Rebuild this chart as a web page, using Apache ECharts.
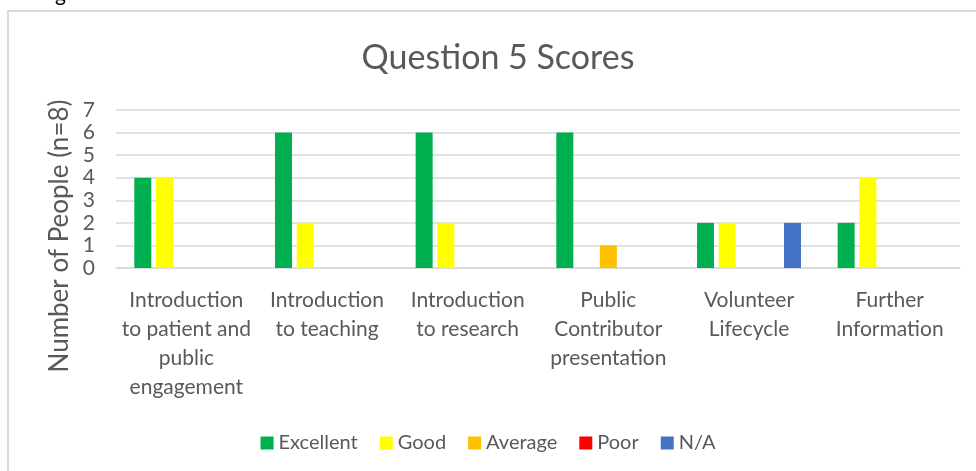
<!DOCTYPE html>
<html>
<head>
<meta charset="utf-8">
<script src="https://cdn.jsdelivr.net/npm/echarts@6/dist/echarts.min.js"></script>
<style>html,body{margin:0;padding:0;background:#fff;}#c{width:976px;height:471px;}</style>
</head>
<body>
<div id="c"></div>
<script>
const categories = [
  "Introduction\nto patient and\npublic\nengagement",
  "Introduction\nto teaching",
  "Introduction\nto research",
  "Public\nContributor\npresentation",
  "Volunteer\nLifecycle",
  "Further\nInformation"
];
const seriesNames = ["Excellent", "Good", "Average", "Poor", "N/A"];
const excellent = [4, 6, 6, 6, 2, 2];
const good = [4, 2, 2, 0, 2, 4];
const average = [0, 0, 0, 1, 0, 0];
const poor = [0, 0, 0, 0, 0, 0];
const na = [0, 0, 0, 0, 2, 0];
const colors = ["#00B050", "#FFFF00", "#FFC000", "#FF0000", "#4472C4"];
const yTicks = [0, 1, 2, 3, 4, 5, 6, 7];
const yTitle = "Number of People (n=8)";

const FONT = "Lato";
const chart = echarts.init(document.getElementById('c'), null, {renderer: 'canvas'});
const allData = [excellent, good, average, poor, na];
chart.setOption({
  animation: false,
  color: colors,
  textStyle: {fontFamily: FONT},
  title: {
    text: "Question 5 Scores",
    left: 493, top: 36, textAlign: 'center',
    textStyle: {fontFamily: FONT, fontSize: 34, fontWeight: 'normal', color: '#595959'}
  },
  graphic: [
    {type: 'rect', shape: {x: 8, y: 11, width: 1100, height: 600}, style: {fill: 'none', stroke: '#d9d9d9', lineWidth: 2}, silent: true},
    {type: 'text', left: 55, top: -16, style: {text: 'g', fontFamily: FONT, fontSize: 21, fill: '#000'}},
    {type: 'text', x: 60, y: 236, rotation: Math.PI / 2,
      style: {text: yTitle, fontFamily: FONT, fontSize: 26, fill: '#595959', textAlign: 'center', textVerticalAlign: 'middle'}}
  ],
  legend: {
    data: seriesNames,
    left: 'center', top: 428,
    itemWidth: 13, itemHeight: 13, itemGap: 22,
    icon: 'rect',
    textStyle: {fontFamily: FONT, fontSize: 20, color: '#595959'}
  },
  grid: {left: 116, right: 16, top: 110, bottom: 203, containLabel: false},
  xAxis: {
    type: 'category',
    data: categories,
    axisLine: {show: true, lineStyle: {color: '#d9d9d9', width: 1.5}},
    axisTick: {show: false},
    axisLabel: {interval: 0, fontFamily: FONT, fontSize: 21, color: '#595959', lineHeight: 29, margin: 18}
  },
  yAxis: {
    type: 'value', min: 0, max: 7, interval: 1,
    axisLine: {show: false}, axisTick: {show: false},
    splitLine: {lineStyle: {color: '#d9d9d9', width: 1.5}},
    axisLabel: {fontFamily: FONT, fontSize: 21, color: '#595959', margin: 21,
      formatter: v => yTicks.includes(v) ? String(v) : ''}
  },
  series: seriesNames.map((n, i) => ({
    name: n, type: 'bar', data: allData[i],
    barWidth: 17, barGap: '28%',
    itemStyle: {color: colors[i]}
  }))
});
</script>
</body>
</html>
